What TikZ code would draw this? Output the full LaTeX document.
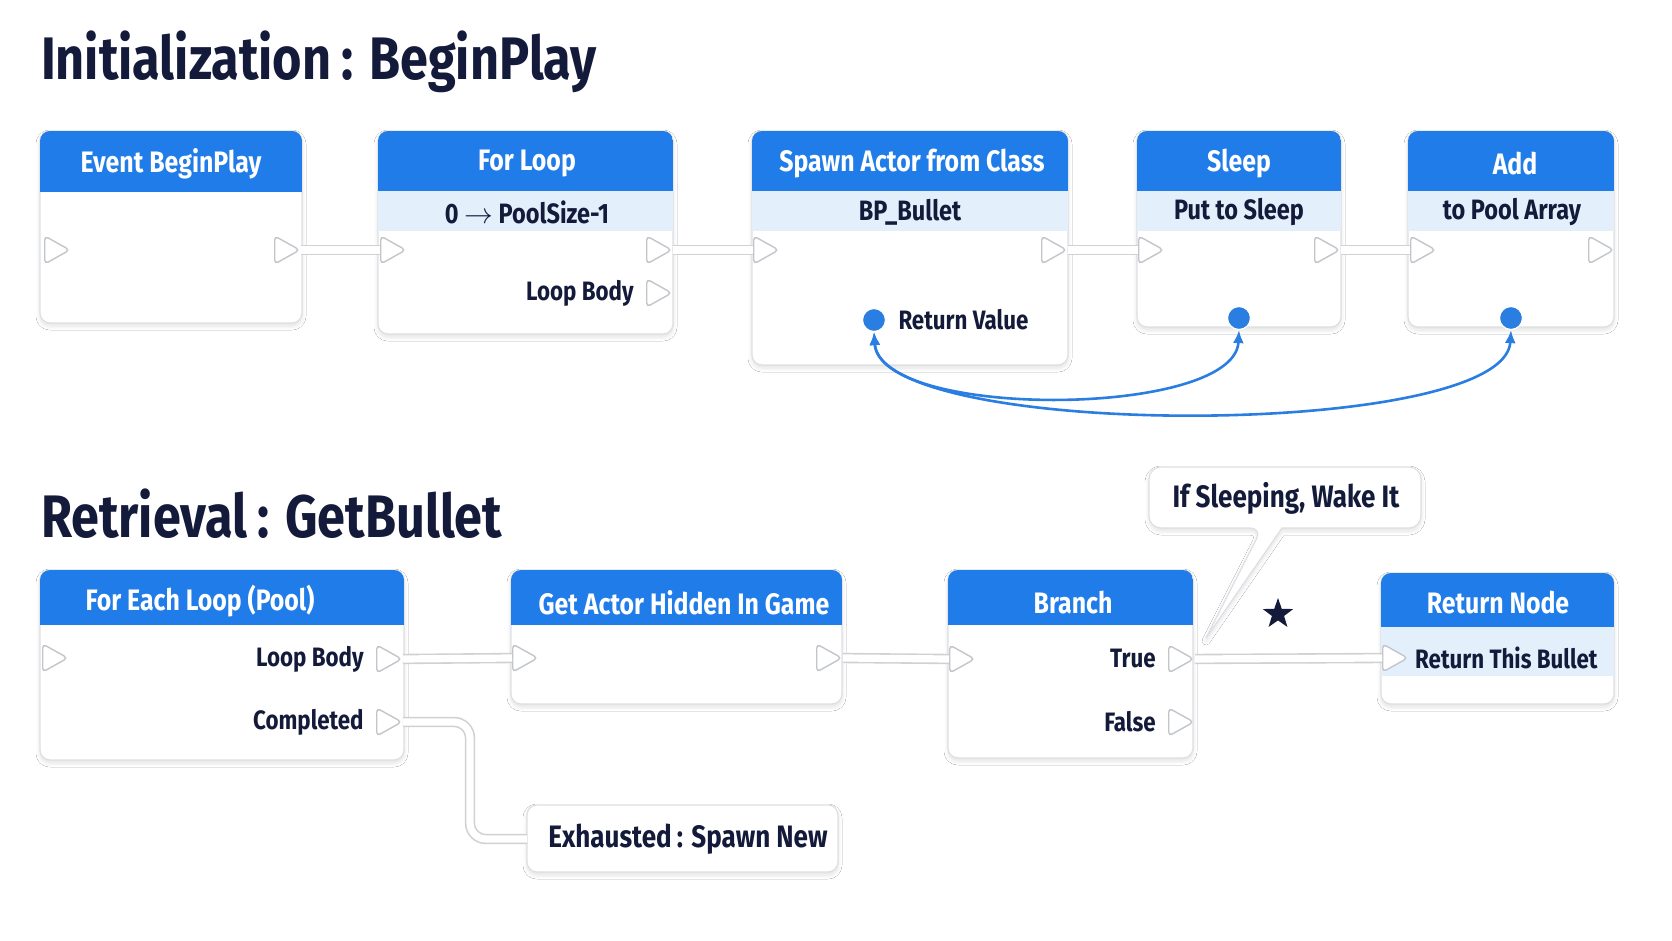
\documentclass[tikz,border=0pt]{standalone}
\usepackage{fontspec}
\setmainfont{Fira Sans}[FakeStretch=0.84]
\usetikzlibrary{positioning,shapes.geometric,arrows.meta,shadows.blur}
\definecolor{hdrblue}{HTML}{1F7CE8}
\definecolor{subblue}{HTML}{E4EFFC}
\definecolor{ink}{HTML}{141A3A}
\definecolor{boxline}{HTML}{DCDFE4}
\definecolor{pinline}{HTML}{C2C5CA}
\definecolor{wireblue}{HTML}{2A7DE1}

% box with header band and optional sub band
\newcommand\bpbox[6]{%
  \path[box] (#1,#2) rectangle (#3,#4);
  \begin{scope}
    \clip[rounded corners=5pt] (#1,#2) rectangle (#3,#4);
    \fill[subblue] (#1,#5) rectangle (#3,#6);
    \fill[hdrblue] (#1,#2) rectangle (#3,#5);
  \end{scope}
}

\tikzset{
  box/.style={draw=boxline, line width=0.6pt, fill=white, rounded corners=5pt,
    blur shadow={shadow xshift=0pt, shadow yshift=-1.5pt, shadow blur steps=8, shadow blur radius=2pt, shadow opacity=12}},
  title/.style={anchor=west, text=ink, font=\bfseries\fontsize{30}{34}\selectfont},
  hdrtext/.style={text=white, font=\bfseries\fontsize{14.8}{18}\selectfont},
  subtext/.style={text=ink, font=\bfseries\fontsize{14}{16}\selectfont},
  lbl/.style={text=ink, font=\bfseries\fontsize{13.3}{15}\selectfont, inner sep=0pt},
  note/.style={text=ink, font=\bfseries\fontsize{15.5}{18}\selectfont},
  execpin/.style={isosceles triangle, isosceles triangle apex angle=80, isosceles triangle stretches,
    minimum width=14pt, minimum height=12.5pt, inner sep=0pt, anchor=west,
    draw=pinline, line width=0.7pt, fill=white, rounded corners=2pt},
  datapin/.style={circle, inner sep=0pt, minimum size=11.5pt, fill=wireblue, draw=white, line width=0.6pt},
  execwire/.style={draw=black!18, line width=0.8pt, double=white, double distance=3.6pt},
  datawire/.style={wireblue, line width=1.3pt, {Latex[length=6.5pt,width=5.5pt]}-{Latex[length=6.5pt,width=5.5pt]}}
}

\begin{document}
\begin{tikzpicture}[x=0.5pt, y=-0.5pt]
\useasboundingbox[fill=white] (0,0) rectangle (1672,941);

\node[title] (init) at (34,62) {Initialization\,: BeginPlay};
\node[title] (retr) at (34,514) {Retrieval\,: GetBullet};

% row 1
\bpbox{40}{131}{302}{323}{192}{192}
\bpbox{378}{131}{673}{334}{191}{231}
\bpbox{752}{131}{1068}{365}{191}{231}
\bpbox{1137}{131}{1341}{327}{191}{231}
\bpbox{1408}{131}{1614}{327}{191}{231}

\node[hdrtext] (ebp) at (171,164) {Event BeginPlay};
\node[hdrtext] (floop) at (527,164) {For Loop};
\node[hdrtext] (spawn) at (912,164) {Spawn Actor from Class};
\node[hdrtext] (sleep) at (1239,164) {Sleep};
\node[hdrtext] (add) at (1515,164) {Add};
\node[subtext] (floop-sub) at (527,212) {0 $\rightarrow$ PoolSize-1};
\node[subtext] (spawn-sub) at (910,212) {BP\_Bullet};
\node[subtext] (sleep-sub) at (1239,212) {Put to Sleep};
\node[subtext] (add-sub) at (1512,212) {to Pool Array};

\node[execpin] (ebp-in) at (44,250) {};
\node[execpin] (ebp-out) at (274,250) {};
\node[execpin] (floop-in) at (380,250) {};
\node[execpin] (floop-out) at (646,250) {};
\node[execpin] (floop-body) at (646,293) {};
\node[execpin] (spawn-in) at (753,250) {};
\node[execpin] (spawn-out) at (1041,250) {};
\node[execpin] (sleep-in) at (1138,250) {};
\node[execpin] (sleep-out) at (1314,250) {};
\node[execpin] (add-in) at (1410,250) {};
\node[execpin] (add-out) at (1588,250) {};
\node[lbl, left=6pt of floop-body] {Loop Body};

\node[datapin] (rv) at (874,320) {};
\node[datapin] (sleep-obj) at (1239,318) {};
\node[datapin] (add-obj) at (1511,318) {};
\node[lbl, right=6pt of rv] {Return Value};

\draw[execwire] (ebp-out.apex) -- (floop-in.west);
\draw[execwire] (floop-out.apex) -- (spawn-in.west);
\draw[execwire] (spawn-out.apex) -- (sleep-in.west);
\draw[execwire] (sleep-out.apex) -- (add-in.west);
\draw[datawire] (rv.south) .. controls (880,420) and (1235,418) .. (sleep-obj.south);
\draw[datawire] (rv.south) .. controls (880,440) and (1505,440) .. (add-obj.south);

% row 2
\bpbox{40}{570}{404}{760}{625}{625}
\bpbox{511}{570}{842}{704}{625}{625}
\bpbox{948}{570}{1193}{758}{625}{625}
\bpbox{1381}{573}{1614}{704}{627}{676}
\path[box] (527,805) rectangle (838,872);
\path[box] (1282,528) [rounded corners=6pt] -- (1421,528) -- (1421,467) -- (1149,467) -- (1149,528)
  -- (1262,528) [sharp corners] -- (1206,638) -- cycle;

\node[hdrtext] (feach) at (200,601) {For Each Loop (Pool)};
\node[hdrtext] (hidden) at (684,603) {Get Actor Hidden In Game};
\node[hdrtext] (branch) at (1073,603) {Branch};
\node[hdrtext] (retn) at (1498,603) {Return Node};
\node[note] (exh) at (688,839) {Exhausted\,: Spawn New};
\node[note] (wake) at (1286,498) {If Sleeping, Wake It};
\node[star, star points=5, star point ratio=2.5, fill=ink, minimum size=16pt, inner sep=0pt] (mark) at (1278,614) {};

\node[execpin] (feach-in) at (42,658) {};
\node[execpin] (feach-body) at (376,659) {};
\node[execpin] (feach-done) at (376,722) {};
\node[execpin] (hidden-in) at (512,658) {};
\node[execpin] (hidden-out) at (816,658) {};
\node[execpin] (branch-in) at (949,659) {};
\node[execpin] (branch-t) at (1168,659) {};
\node[execpin] (branch-f) at (1168,722) {};
\node[execpin] (retn-in) at (1382,658) {};
\node[lbl, left=6pt of feach-body] {Loop Body};
\node[lbl, left=6pt of feach-done] {Completed};
\node[lbl, left=6pt of branch-t] {True};
\node[lbl, left=6pt of branch-f] {False};
\node[lbl, right=3pt of retn-in] {Return This Bullet};

\draw[execwire] (feach-body.apex) -- (hidden-in.west);
\draw[execwire] (hidden-out.apex) -- (branch-in.west);
\draw[execwire] (branch-t.apex) -- (retn-in.west);
\draw[execwire, rounded corners=8pt] (feach-done.apex) -| (470,839) -- (exh.west -| 527,839);
\end{tikzpicture}
\end{document}
